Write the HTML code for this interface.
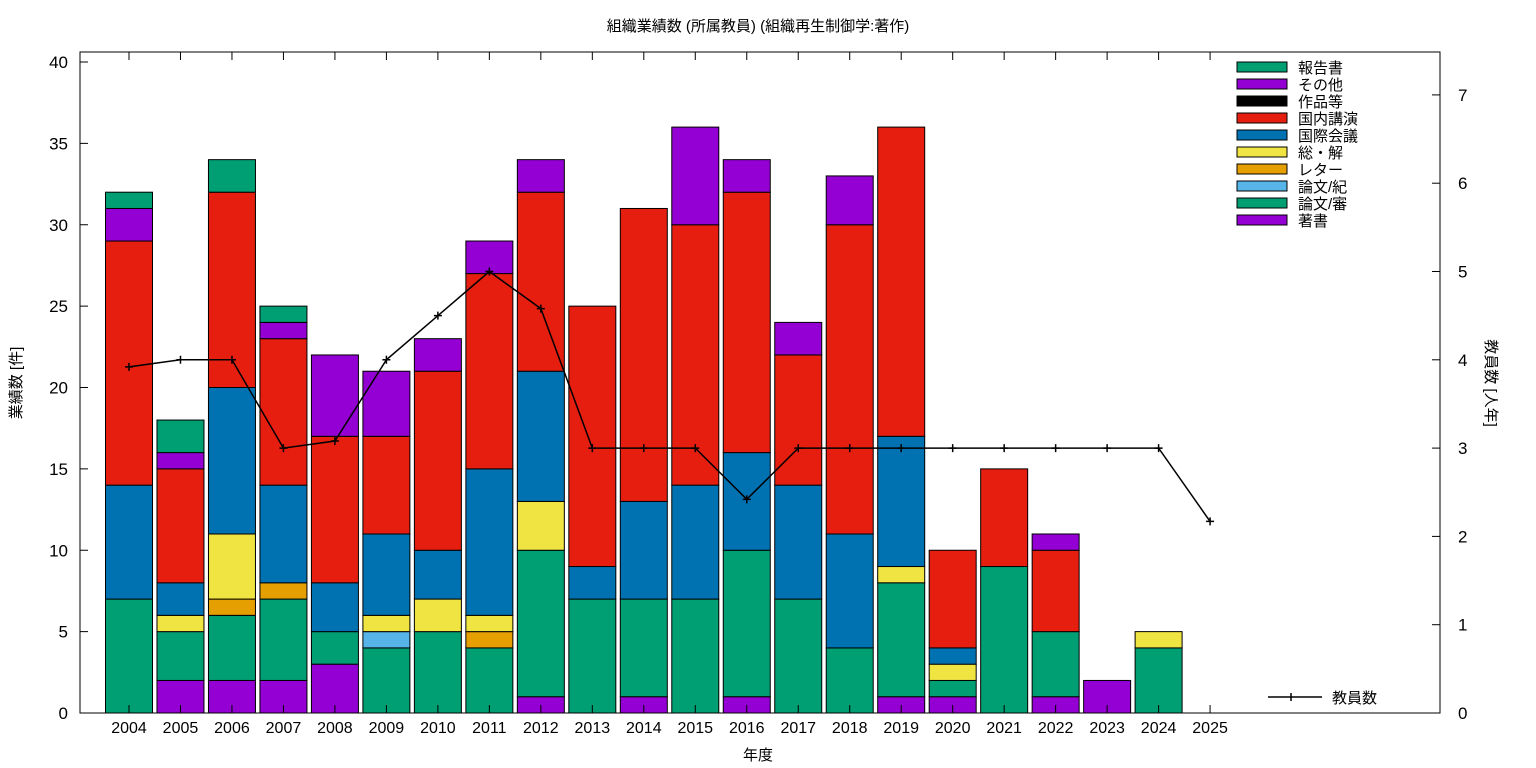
<!DOCTYPE html>
<html><head><meta charset="utf-8">
<style>
html,body{margin:0;padding:0;background:#fff;}
svg{display:block;font-family:"Liberation Sans","Noto Sans CJK JP",sans-serif;}
</style></head>
<body>
<svg id="chart" width="1536" height="768"></svg>
<script>
const years = ["2004","2005","2006","2007","2008","2009","2010","2011","2012","2013","2014","2015","2016","2017","2018","2019","2020","2021","2022","2023","2024","2025"];
const seriesNames = ["著書","論文/審","論文/紀","レター","総・解","国際会議","国内講演","作品等","その他","報告書"];
const seriesColors = ["#9400d3","#009e73","#56b4e9","#e69f00","#f0e442","#0072b2","#e51e10","#000000","#9400d3","#009e73"];
const books     = [0,2,2,2,3,0,0,0,1,0,1,0,1,0,0,1,1,0,1,2,0,0];
const papersRev = [7,3,4,5,2,4,5,4,9,7,6,7,9,7,4,7,1,9,4,0,4,0];
const papersBul = [0,0,0,0,0,1,0,0,0,0,0,0,0,0,0,0,0,0,0,0,0,0];
const letters   = [0,0,1,1,0,0,0,1,0,0,0,0,0,0,0,0,0,0,0,0,0,0];
const reviews   = [0,1,4,0,0,1,2,1,3,0,0,0,0,0,0,1,1,0,0,0,1,0];
const intlConf  = [7,2,9,6,3,5,3,9,8,2,6,7,6,7,7,8,1,0,0,0,0,0];
const domConf   = [15,7,12,9,9,6,11,12,11,16,18,16,16,8,19,19,6,6,5,0,0,0];
const works     = [0,0,0,0,0,0,0,0,0,0,0,0,0,0,0,0,0,0,0,0,0,0];
const others    = [2,1,0,1,5,4,2,2,2,0,0,6,2,2,3,0,0,0,1,0,0,0];
const reports   = [1,2,2,1,0,0,0,0,0,0,0,0,0,0,0,0,0,0,0,0,0,0];
const staff     = [3.92,4,4,3,3.08,4,4.5,5,4.58,3,3,3,2.42,3,3,3,3,3,3,3,3,2.17];
const leftTicks = [0,5,10,15,20,25,30,35,40];
const rightTicks = [0,1,2,3,4,5,6,7];

const series = [books,papersRev,papersBul,letters,reviews,intlConf,domConf,works,others,reports];
const NS = "http://www.w3.org/2000/svg";
const svg = document.getElementById("chart");
const L=80, R=1440, T=52, B=713;
const xScale = i => 129 + i*51.48;
const yL = v => B - v*16.275;
const yR = v => B - v*88.3;
function el(tag, attrs, parent){ const e=document.createElementNS(NS,tag); for(const k in attrs) e.setAttribute(k,attrs[k]); (parent||svg).appendChild(e); return e; }
function txt(s, attrs){ const t=el("text",attrs); t.textContent=s; return t; }

// bars
const bw = 47;
years.forEach((y,i)=>{
  let base=0;
  series.forEach((arr,s)=>{
    const v=arr[i]; if(!v) return;
    const r=el("rect",{x:xScale(i)-bw/2,y:yL(base+v),width:bw,height:yL(base)-yL(base+v),fill:seriesColors[s],stroke:"#000","stroke-width":1});
    
    
    base+=v;
  });
});

// frame
const fr=el("rect",{x:L,y:T,width:R-L,height:B-T,fill:"none",stroke:"#000","stroke-width":1});



// left ticks
leftTicks.forEach(v=>{
  el("line",{x1:L,x2:L+8,y1:yL(v),y2:yL(v),stroke:"#000"});
  const t=txt(String(v),{x:L-12,y:yL(v)+6,"text-anchor":"end","font-size":17});
  
  
});
rightTicks.forEach(v=>{
  el("line",{x1:R-8,x2:R,y1:yR(v),y2:yR(v),stroke:"#000"});
  const t=txt(String(v),{x:R+18,y:yR(v)+6,"text-anchor":"start","font-size":17});
  
  
});
years.forEach((y,i)=>{
  el("line",{x1:xScale(i),x2:xScale(i),y1:B,y2:B-8,stroke:"#000"});
  el("line",{x1:xScale(i),x2:xScale(i),y1:T,y2:T+8,stroke:"#000"});
  const t=txt(y,{x:xScale(i),y:B+20,"text-anchor":"middle","font-size":16});
  
  
});

// staff line
const pts = staff.map((v,i)=>xScale(i)+","+yR(v)).join(" ");
const pl=el("polyline",{points:pts,fill:"none",stroke:"#000","stroke-width":1.5});


staff.forEach((v,i)=>{
  const g=el("path",{d:`M${xScale(i)-4},${yR(v)}h8M${xScale(i)},${yR(v)-4}v8`,stroke:"#000","stroke-width":1.5});
  
  
});

// legend
const legendOrder=[9,8,7,6,5,4,3,2,1,0];
const legendLabels=["報告書","その他","作品等","国内講演","国際会議","総・解","レター","論文/紀","論文/審","著書"];
legendOrder.forEach((s,k)=>{
  const yy=67+k*17;
  const r=el("rect",{x:1237,y:yy-5,width:50,height:10,fill:seriesColors[s],stroke:"#000"});
  
  
  const t=txt(legendLabels[k],{x:1298,y:yy+6,"font-size":15});
  
  
});
el("line",{x1:1268,x2:1322,y1:697,y2:697,stroke:"#000","stroke-width":1.5});
el("path",{d:"M1291,693v8",stroke:"#000","stroke-width":1.5});
const lt=txt("教員数",{x:1332,y:703,"font-size":15});



// titles
const tt=txt("組織業績数 (所属教員) (組織再生制御学:著作)",{x:758,y:31,"text-anchor":"middle","font-size":15});


const xt=txt("年度",{x:758,y:760,"text-anchor":"middle","font-size":15});


const yt=txt("業績数 [件]",{x:0,y:0,"text-anchor":"middle","font-size":15,transform:"translate(21,383) rotate(-90)"});


const y2=txt("教員数 [人年]",{x:0,y:0,"text-anchor":"middle","font-size":15,transform:"translate(1486,383) rotate(90)"});


</script>
</body></html>
